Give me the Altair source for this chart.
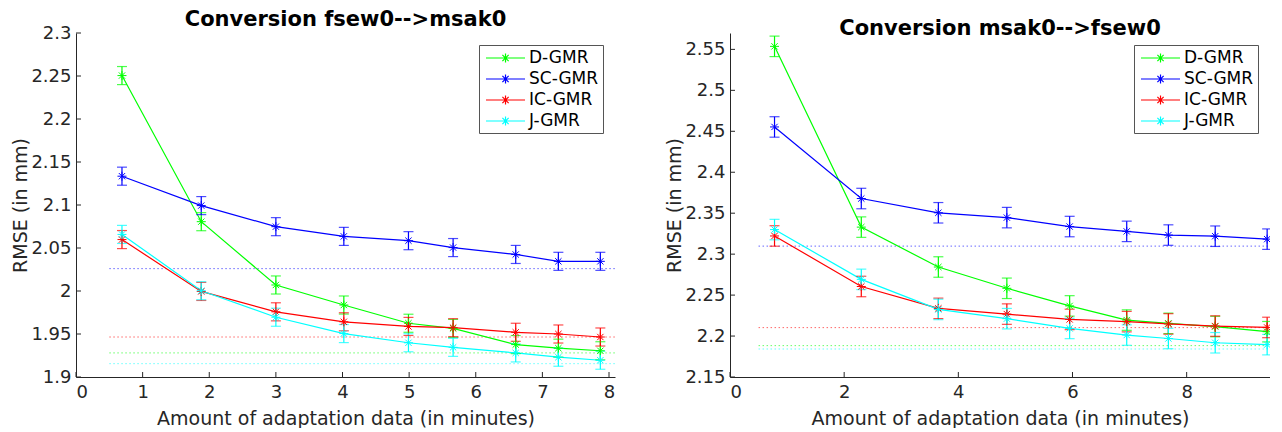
import altair as alt
import pandas as pd

methods = ["D-GMR", "SC-GMR", "IC-GMR", "J-GMR"]
colors = ["#00ff00", "#0000ff", "#ff0000", "#00ffff"]

# ---- left panel: fsew0 --> msak0 ----
left_title = "Conversion fsew0-->msak0"
left_x = [0.69, 1.88, 3.0, 4.02, 4.99, 5.66, 6.6, 7.24, 7.87]
left_dgmr = [2.2505, 2.0806, 2.007, 1.9837, 1.9625, 1.9565, 1.9377, 1.9335, 1.9305]
left_scgmr = [2.1335, 2.0993, 2.0748, 2.0635, 2.0585, 2.0505, 2.0425, 2.0345, 2.0345]
left_icgmr = [2.0598, 1.9995, 1.9758, 1.9642, 1.9588, 1.9573, 1.952, 1.950, 1.9465]
left_jgmr = [2.0658, 2.0003, 1.9695, 1.9505, 1.9398, 1.9345, 1.928, 1.923, 1.9195]
left_err = [0.0105] * 9
left_ref = [1.928, 2.026, 1.9465, 1.9155]   # dotted reference levels (D, SC, IC, J)
left_ref_x = [0.5, 8.09]
left_xdomain = [0, 8.09]
left_ydomain = [1.9, 2.3]
left_xticks = [0, 1, 2, 3, 4, 5, 6, 7, 8]
left_yticks = [1.9, 1.95, 2.0, 2.05, 2.1, 2.15, 2.2, 2.25, 2.3]

# ---- right panel: msak0 --> fsew0 ----
right_title = "Conversion msak0-->fsew0"
right_x = [0.78, 2.3, 3.65, 4.85, 5.95, 6.95, 7.68, 8.5, 9.41]
right_dgmr = [2.5537, 2.333, 2.2843, 2.2583, 2.2368, 2.2195, 2.2155, 2.2116, 2.2053]
right_scgmr = [2.4553, 2.3679, 2.3505, 2.3446, 2.3337, 2.3278, 2.3233, 2.3219, 2.3183]
right_icgmr = [2.3222, 2.2605, 2.2338, 2.2268, 2.2203, 2.2176, 2.2148, 2.2122, 2.2105]
right_jgmr = [2.33, 2.2692, 2.2325, 2.2212, 2.2093, 2.2012, 2.197, 2.1918, 2.1895]
right_err = [0.0125] * 9
right_ref = [2.1883, 2.3098, 2.2103, 2.1842]
right_ref_x = [0.5, 9.46]
right_xdomain = [0, 9.46]
right_ydomain = [2.15, 2.57]
right_xticks = [0, 2, 4, 6, 8]
right_yticks = [2.15, 2.2, 2.25, 2.3, 2.35, 2.4, 2.45, 2.5, 2.55]

FONT = "DejaVu Sans"
TXT = "#262626"
STAR = "M0,-1L0,1M-1,0L1,0M-0.7,-0.7L0.7,0.7M-0.7,0.7L0.7,-0.7"
# legend glyph: a line segment with an asterisk in its middle (shifted right of the symbol slot)
LEG_SYM = ("M-0.75,0L4.125,0M1.69,-0.55L1.69,0.55M1.30,-0.39L2.08,0.39M1.30,0.39L2.08,-0.39")

TICK_FS = 18
TITLE_FS = 19
LEG_FS = 17


def build_df(xs, series, errs):
    rows = []
    for m, ys in zip(methods, series):
        for x, y, e in zip(xs, ys, errs):
            rows.append({"x": x, "y": y, "lo": y - e, "hi": y + e, "method": m})
    return pd.DataFrame(rows)


def build_ref(refs, rx):
    return pd.DataFrame({"method": methods, "ref": refs, "x0": rx[0], "x1": rx[1]})


LEGEND = alt.Legend(title=None, orient="top-right", offset=12,
                    symbolType=LEG_SYM, symbolSize=256,
                    symbolStrokeWidth=1.2, symbolOpacity=1,
                    labelOffset=28, labelFontSize=LEG_FS, labelFont=FONT,
                    labelColor="black", padding=4, rowPadding=4, columnPadding=0,
                    strokeColor="#555555", fillColor="white")


def panel(df, ref, title, xdom, ydom, xticks, yticks, width, height):
    color = alt.Color("method:N", scale=alt.Scale(domain=methods, range=colors), legend=LEGEND)
    xs = alt.Scale(domain=xdom, nice=False, zero=False)
    ys = alt.Scale(domain=ydom, nice=False, zero=False)
    xax = alt.Axis(values=xticks, title="Amount of adaptation data (in minutes)", format="~g")
    yax = alt.Axis(values=yticks, title="RMSE (in mm)", format=".2~f")
    X = alt.X("x:Q", scale=xs, axis=xax)
    Y = alt.Y("y:Q", scale=ys, axis=yax)

    base = alt.Chart(df)
    refs = alt.Chart(ref).mark_rule(strokeDash=[1.5, 2.5], strokeWidth=1, strokeOpacity=0.6, clip=True).encode(
        x=alt.X("x0:Q", scale=xs, axis=xax), x2="x1:Q",
        y=alt.Y("ref:Q", scale=ys, axis=yax), color=color)
    lines = base.mark_line(strokeWidth=1.2, clip=True).encode(
        x=X, y=Y, color=color, order="x:Q")
    bars = base.mark_rule(strokeWidth=1.2, clip=True).encode(
        x=X, y=alt.Y("lo:Q", scale=ys, axis=yax), y2="hi:Q", color=color)
    caps_lo = base.mark_tick(orient="horizontal", size=10, thickness=1.2, clip=True).encode(
        x=X, y=alt.Y("lo:Q", scale=ys, axis=yax), color=color)
    caps_hi = base.mark_tick(orient="horizontal", size=10, thickness=1.2, clip=True).encode(
        x=X, y=alt.Y("hi:Q", scale=ys, axis=yax), color=color)
    stars = base.mark_point(shape=STAR, size=81, filled=False, strokeWidth=1, clip=True, opacity=1).encode(
        x=X, y=Y, color=color)

    ytk = alt.Chart(pd.DataFrame({"t": yticks})).mark_rule(color=TXT, strokeWidth=1).encode(
        y=alt.Y("t:Q", scale=ys, axis=yax), x=alt.value(0), x2=alt.value(5))
    xtk = alt.Chart(pd.DataFrame({"t": xticks})).mark_rule(color=TXT, strokeWidth=1).encode(
        x=alt.X("t:Q", scale=xs, axis=xax), y=alt.value(height), y2=alt.value(height - 5))

    return alt.layer(refs, lines, bars, caps_lo, caps_hi, stars, ytk, xtk).properties(
        width=width, height=height,
        title=alt.TitleParams(title, fontSize=21, fontWeight="bold", font=FONT, color="black",
                              offset=-6, anchor="middle"))


left = panel(build_df(left_x, [left_dgmr, left_scgmr, left_icgmr, left_jgmr], left_err),
             build_ref(left_ref, left_ref_x), left_title, left_xdomain, left_ydomain,
             left_xticks, left_yticks, 539, 344)
right = panel(build_df(right_x, [right_dgmr, right_scgmr, right_icgmr, right_jgmr], right_err),
              build_ref(right_ref, right_ref_x), right_title, right_xdomain, right_ydomain,
              right_xticks, right_yticks, 540, 344)

chart = alt.hconcat(left, right, spacing=50).resolve_scale(
    color="independent", x="independent", y="independent").resolve_legend(
    color="independent").configure_view(stroke=None).configure_axis(
    grid=False, ticks=False, tickSize=0, domainColor=TXT, domainWidth=1,
    labelColor=TXT, labelFont=FONT, labelFontSize=TICK_FS, labelPadding=5,
    titleColor=TXT, titleFont=FONT, titleFontSize=TITLE_FS, titleFontWeight="normal",
    titlePadding=0).configure_axisX(labelPadding=6, titlePadding=8).properties(
    background="white", padding={"top": 1, "left": 3, "right": 0, "bottom": 0})

chart.save("out.html", embed_options={"renderer": "svg", "actions": False})
